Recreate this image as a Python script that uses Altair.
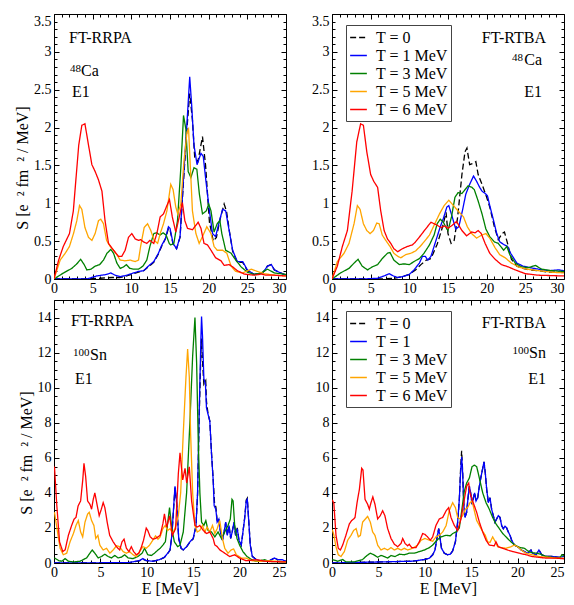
import altair as alt
import pandas as pd

FONT = "Liberation Serif"

# ---------------- data: 48Ca, FT-RRPA ----------------
CA_RRPA_T0 = [[0,0],[4,0],[6,0.01],[7.5,0.02],[8.5,0.02],[9.4,0.04],[10.3,0.07],[10.93,0.09],[11.6,0.11],[12.2,0.16],[12.9,0.22],[13.5,0.33],[13.95,0.44],[14.4,0.53],[14.8,0.67],[15.0,0.65],[15.4,0.46],[15.85,0.4],[16.3,0.55],[16.75,1.3],[17.2,2.0],[17.55,2.45],[17.9,2.1],[18.2,1.6],[18.6,1.55],[19.2,1.88],[19.6,1.5],[20.1,0.75],[20.6,0.5],[21.0,0.55],[21.5,0.8],[22.0,0.99],[22.3,0.9],[22.7,0.62],[23.1,0.37],[23.7,0.22],[24.4,0.22],[25.0,0.11],[25.9,0.06],[27.0,0.08],[27.6,0.17],[28.1,0.19],[28.5,0.12],[29.3,0.08],[30,0.05]]
CA_RRPA_T1 = [[0,0],[2,0.0],[4.25,0.0],[5.5,0.04],[6.8,0.06],[7.35,0.08],[7.9,0.05],[8.56,0.03],[9.4,0.05],[10.3,0.08],[10.93,0.10],[11.6,0.11],[12.2,0.17],[12.9,0.23],[13.5,0.34],[13.95,0.45],[14.4,0.53],[14.8,0.69],[15.0,0.67],[15.4,0.47],[15.85,0.4],[16.3,0.56],[16.75,1.34],[17.2,2.07],[17.55,2.67],[17.8,2.3],[18.1,1.77],[18.5,1.51],[19.0,1.66],[19.3,1.62],[19.65,1.29],[20.1,0.9],[20.5,0.6],[20.9,0.56],[21.4,0.77],[21.8,0.92],[22.2,0.9],[22.65,0.64],[23.1,0.38],[23.7,0.23],[24.4,0.23],[25.0,0.12],[25.9,0.06],[27.0,0.08],[27.6,0.17],[28.1,0.19],[28.5,0.12],[29.3,0.08],[30,0.05]]
CA_RRPA_T3 = [[0,0],[1.23,0.08],[2.3,0.14],[2.95,0.2],[3.45,0.26],[3.9,0.19],[4.25,0.12],[4.8,0.13],[5.32,0.17],[5.9,0.19],[6.4,0.25],[6.85,0.34],[7.35,0.39],[7.7,0.34],[8.13,0.21],[8.56,0.14],[9.0,0.16],[9.35,0.19],[9.8,0.14],[10.3,0.13],[10.93,0.13],[11.5,0.17],[12.0,0.25],[12.4,0.43],[12.9,0.6],[13.3,0.61],[13.7,0.58],[14.1,0.61],[14.5,0.58],[14.9,0.47],[15.1,0.45],[15.5,0.47],[15.97,0.77],[16.4,1.47],[16.75,2.16],[17.05,1.98],[17.35,1.42],[17.7,1.34],[18.1,1.47],[18.47,1.45],[18.8,1.12],[19.2,0.86],[19.7,0.9],[20.0,0.99],[20.3,0.9],[20.7,0.62],[21.1,0.73],[21.45,0.77],[21.7,0.6],[22.2,0.38],[22.9,0.34],[23.5,0.25],[24.2,0.16],[25.0,0.09],[25.9,0.06],[26.8,0.08],[27.6,0.13],[28.5,0.08],[30,0.06]]
CA_RRPA_T5 = [[0,0],[0.8,0.25],[1.45,0.34],[2.0,0.43],[2.52,0.6],[2.95,0.77],[3.3,0.97],[3.6,0.92],[4.0,0.68],[4.46,0.55],[4.9,0.51],[5.32,0.6],[5.75,0.77],[6.05,0.79],[6.4,0.73],[6.8,0.51],[7.26,0.43],[7.7,0.38],[8.13,0.32],[8.56,0.25],[9.2,0.24],[9.85,0.25],[10.5,0.23],[10.93,0.25],[11.2,0.43],[11.66,0.68],[12.1,0.73],[12.52,0.64],[12.95,0.51],[13.4,0.47],[13.73,0.6],[14.16,0.73],[14.6,0.9],[15.1,1.25],[15.4,1.18],[15.75,0.95],[16.0,0.86],[16.4,0.99],[16.8,1.55],[17.2,1.94],[17.4,1.98],[17.6,1.55],[17.9,0.9],[18.35,0.6],[18.77,0.47],[19.2,0.56],[19.76,0.69],[20.3,0.6],[20.7,0.43],[21.1,0.38],[21.8,0.38],[22.35,0.34],[22.9,0.17],[23.5,0.10],[24.4,0.08],[25.5,0.13],[26.3,0.10],[27.2,0.07],[28.5,0.05],[30,0.04]]
CA_RRPA_T6 = [[0,0],[0.6,0.25],[1.2,0.43],[2.0,0.6],[2.5,0.9],[3.2,1.77],[3.6,2.03],[4.0,2.05],[4.46,1.77],[4.9,1.51],[5.32,1.42],[5.75,1.31],[6.2,1.16],[6.6,0.77],[7.05,0.47],[7.7,0.38],[8.34,0.30],[8.77,0.30],[9.2,0.38],[9.63,0.55],[10.06,0.6],[10.5,0.53],[10.93,0.51],[11.2,0.52],[11.57,0.49],[12.0,0.47],[12.4,0.51],[12.9,0.47],[13.3,0.6],[13.73,0.82],[14.16,0.86],[14.6,0.97],[14.93,1.05],[15.3,0.82],[15.75,0.62],[16.2,0.82],[16.6,1.01],[16.92,0.77],[17.26,0.67],[17.9,0.65],[18.35,0.71],[18.64,0.75],[19.0,0.67],[19.4,0.47],[19.85,0.45],[20.3,0.38],[20.9,0.28],[21.6,0.24],[22.0,0.18],[22.65,0.19],[23.1,0.16],[23.7,0.11],[24.6,0.065],[25.9,0.05],[26.8,0.065],[27.4,0.05],[28.5,0.05],[30,0.04]]

# ---------------- data: 48Ca, FT-RTBA ----------------
CA_RTBA_T0 = [[0,0],[6,0],[8,0.01],[9,0.03],[10,0.06],[10.8,0.12],[11.5,0.19],[12.2,0.25],[12.8,0.27],[13.6,0.46],[14.3,0.69],[14.75,0.88],[15.0,0.6],[15.4,0.47],[15.8,0.51],[16.25,0.82],[16.8,1.38],[17.2,1.68],[17.45,1.73],[17.8,1.51],[18.3,1.53],[18.6,1.55],[18.9,1.38],[19.4,1.25],[20.0,1.08],[20.4,0.95],[21.0,0.69],[21.5,0.52],[22.0,0.6],[22.3,0.62],[22.7,0.47],[23.2,0.26],[23.9,0.17],[24.7,0.14],[25.6,0.12],[26.7,0.11],[28.0,0.09],[30,0.09]]
CA_RTBA_T1 = [[0,0],[4,0],[5.9,0.01],[6.74,0.04],[7.4,0.07],[7.95,0.04],[8.5,0.02],[9.1,0.03],[10.0,0.06],[10.6,0.12],[11.3,0.21],[11.7,0.3],[12.05,0.3],[12.4,0.25],[12.8,0.3],[13.2,0.43],[13.6,0.56],[14.0,0.69],[14.4,0.8],[14.85,0.95],[15.1,0.97],[15.55,0.82],[16.0,0.66],[16.4,0.69],[16.9,0.92],[17.3,1.12],[17.8,1.25],[18.3,1.36],[18.7,1.29],[19.1,1.21],[19.4,1.16],[19.8,1.13],[20.1,1.1],[20.4,0.97],[20.9,0.77],[21.3,0.6],[21.7,0.49],[22.3,0.45],[22.7,0.43],[23.1,0.34],[23.9,0.21],[24.7,0.17],[25.6,0.15],[26.7,0.13],[28.0,0.11],[29.3,0.12],[30,0.11]]
CA_RTBA_T3 = [[0,0],[1.1,0.08],[2.2,0.14],[2.85,0.21],[3.37,0.26],[3.9,0.17],[4.6,0.12],[5.2,0.16],[5.9,0.19],[6.5,0.27],[7.17,0.34],[7.5,0.35],[8.0,0.25],[8.7,0.19],[9.3,0.2],[10.0,0.19],[10.6,0.23],[11.3,0.27],[11.9,0.34],[12.6,0.45],[13.2,0.58],[13.6,0.73],[14.0,0.79],[14.4,0.75],[14.85,0.66],[15.0,0.64],[15.45,0.82],[15.9,1.08],[16.3,1.14],[16.8,1.13],[17.2,1.18],[17.6,1.23],[18.1,1.21],[18.4,1.18],[18.9,1.03],[19.4,0.86],[19.9,0.66],[20.4,0.56],[21.0,0.49],[21.5,0.47],[22.2,0.38],[22.6,0.43],[23.0,0.32],[23.7,0.21],[24.5,0.16],[25.4,0.15],[26.3,0.18],[27.1,0.13],[28.4,0.11],[30,0.1]]
CA_RTBA_T5 = [[0,0],[0.69,0.23],[1.56,0.34],[2.2,0.47],[2.85,0.73],[3.28,0.97],[3.63,0.92],[4.06,0.73],[4.5,0.64],[4.93,0.6],[5.36,0.64],[5.79,0.74],[6.1,0.73],[6.5,0.58],[6.95,0.51],[7.5,0.43],[8.0,0.34],[8.5,0.30],[8.9,0.28],[9.5,0.32],[10.2,0.34],[10.8,0.37],[11.4,0.43],[11.9,0.49],[12.6,0.58],[13.2,0.71],[13.9,0.86],[14.5,0.97],[15.1,1.04],[15.7,0.97],[16.3,0.9],[17.0,0.82],[17.5,0.69],[18.05,0.6],[18.7,0.54],[19.35,0.58],[19.9,0.6],[20.4,0.54],[21.1,0.41],[21.7,0.32],[22.4,0.28],[23.2,0.21],[24.1,0.16],[25.2,0.13],[26.7,0.11],[28.4,0.09],[30,0.08]]
CA_RTBA_T6 = [[0,0],[0.69,0.17],[1.34,0.43],[1.99,0.64],[2.6,1.16],[3.2,1.81],[3.7,2.05],[4.06,2.03],[4.5,1.68],[5.0,1.38],[5.4,1.29],[5.9,1.21],[6.3,0.9],[6.74,0.64],[7.17,0.53],[7.6,0.47],[8.0,0.40],[8.5,0.36],[9.1,0.40],[9.76,0.43],[10.4,0.45],[10.8,0.49],[11.5,0.58],[12.1,0.66],[12.8,0.75],[13.2,0.73],[13.6,0.71],[14.1,0.68],[14.6,0.70],[15.0,0.67],[15.55,0.71],[16.1,0.76],[16.8,0.64],[17.4,0.57],[18.05,0.62],[18.5,0.61],[18.9,0.64],[19.3,0.6],[19.8,0.47],[20.4,0.34],[21.1,0.26],[21.9,0.19],[22.8,0.16],[23.7,0.12],[25.0,0.07],[26.7,0.05],[30,0.04]]

# ---------------- data: 100Sn, FT-RRPA ----------------
SN_RRPA_T0 = [[0,0],[8,0.01],[9.2,0.12],[9.58,0.22],[9.94,0.13],[10.65,0.1],[11.4,0.19],[11.9,0.32],[12.26,0.55],[12.5,0.73],[12.7,1.55],[12.9,3.2],[13.04,4.3],[13.22,3.4],[13.44,1.38],[13.7,0.83],[13.93,0.74],[14.29,0.92],[14.65,1.2],[15.0,1.38],[15.3,2.1],[15.47,3.9],[15.65,8.4],[15.83,12.0],[15.9,12.8],[16.0,11.5],[16.15,10.2],[16.35,10.4],[16.43,9.2],[16.6,8.5],[16.79,8.1],[16.97,6.3],[17.15,4.8],[17.3,3.4],[17.44,3.2],[17.58,2.4],[17.76,2.5],[17.94,1.8],[18.15,1.3],[18.33,1.77],[18.5,2.3],[18.68,1.58],[18.86,2.14],[19.04,1.4],[19.2,1.77],[19.4,2.3],[19.57,1.58],[19.75,2.0],[19.93,1.3],[20.18,1.02],[20.36,1.77],[20.54,2.55],[20.72,3.6],[20.83,3.7],[20.97,2.55],[21.15,1.05],[21.37,0.38],[21.8,0.19],[22.5,0.09],[23.2,0.13],[23.75,0.28],[24.1,0.19],[24.6,0.19],[25,0.09]]
SN_RRPA_T1 = [[0,0],[8,0.02],[9.2,0.14],[9.58,0.25],[9.94,0.14],[10.65,0.1],[11.4,0.2],[11.9,0.33],[12.26,0.56],[12.5,0.74],[12.7,1.58],[12.9,3.26],[13.04,4.38],[13.22,3.44],[13.44,1.4],[13.7,0.84],[13.93,0.75],[14.29,0.93],[14.65,1.21],[15.0,1.4],[15.3,2.14],[15.47,4.0],[15.65,8.66],[15.83,12.8],[15.9,14.06],[16.0,12.97],[16.15,10.5],[16.32,10.2],[16.43,8.85],[16.6,8.48],[16.79,8.1],[16.97,6.25],[17.15,4.75],[17.26,3.26],[17.44,3.07],[17.58,2.33],[17.76,2.51],[17.94,1.77],[18.15,1.3],[18.33,1.77],[18.5,2.33],[18.68,1.58],[18.86,2.14],[19.04,1.4],[19.2,1.77],[19.4,2.33],[19.57,1.58],[19.75,1.96],[19.93,1.3],[20.18,1.02],[20.36,1.77],[20.54,2.51],[20.72,3.54],[20.83,3.63],[20.97,2.51],[21.15,1.02],[21.37,0.37],[21.8,0.19],[22.5,0.09],[23.2,0.13],[23.75,0.28],[24.1,0.19],[24.6,0.19],[25,0.09]]
SN_RRPA_T3 = [[0.05,0.29],[0.5,0.14],[0.84,0.1],[1.2,0.25],[1.55,0.1],[2.1,0.06],[2.8,0.1],[3.52,0.29],[3.87,0.56],[4.12,0.74],[4.4,0.56],[4.76,0.29],[5.12,0.37],[5.48,0.5],[5.84,0.37],[6.2,0.29],[6.55,0.43],[6.9,0.29],[7.26,0.33],[7.62,0.47],[7.98,0.29],[8.5,0.25],[9.05,0.37],[9.5,0.56],[9.76,0.84],[10.1,0.47],[10.5,0.43],[10.83,0.56],[11.2,0.74],[11.44,0.84],[11.73,1.02],[12.0,1.21],[12.26,2.33],[12.45,3.16],[12.7,1.96],[12.97,1.21],[13.33,0.93],[13.58,1.02],[13.93,1.77],[14.29,4.0],[14.65,8.1],[14.94,11.8],[15.19,14.0],[15.37,11.4],[15.55,6.8],[15.72,4.0],[15.9,2.33],[16.15,2.14],[16.36,2.42],[16.6,1.86],[16.97,1.77],[17.33,1.49],[17.68,1.77],[18.04,1.4],[18.4,1.77],[18.75,2.14],[19.0,2.51],[19.18,3.63],[19.3,3.54],[19.47,2.14],[19.72,1.4],[20.0,1.02],[20.36,0.65],[20.8,0.37],[21.3,0.19],[21.8,0.09],[22.7,0.19],[23.2,0.09],[25,0.06]]
SN_RRPA_T5 = [[0.05,2.9],[0.38,1.77],[0.66,0.84],[1.0,0.47],[1.37,0.56],[1.73,1.21],[2.09,1.68],[2.37,2.14],[2.62,2.42],[2.87,1.77],[3.09,1.49],[3.34,2.33],[3.62,2.79],[3.8,2.89],[4.05,2.42],[4.3,2.14],[4.5,1.4],[4.73,1.58],[4.94,1.02],[5.3,0.74],[5.66,0.84],[6.02,0.56],[6.37,0.74],[6.73,0.98],[7.08,0.93],[7.44,0.65],[7.8,0.56],[8.15,0.65],[8.51,0.47],[8.87,0.37],[9.22,0.65],[9.58,0.93],[9.94,0.84],[10.3,1.02],[10.65,1.3],[10.94,1.55],[11.2,1.36],[11.44,1.49],[11.73,1.96],[11.98,2.14],[12.26,1.86],[12.5,1.96],[12.8,1.68],[13.15,2.14],[13.4,2.72],[13.65,4.0],[13.93,7.4],[14.22,10.6],[14.4,12.2],[14.58,10.6],[14.72,7.4],[14.94,4.0],[15.19,2.14],[15.44,1.77],[15.72,1.86],[16.0,2.14],[16.25,1.77],[16.5,2.05],[16.79,1.77],[17.08,2.14],[17.33,1.68],[17.58,1.95],[17.86,2.42],[18.15,1.4],[18.4,0.84],[18.75,0.56],[19.1,0.75],[19.36,0.8],[19.65,0.47],[20.2,0.28],[20.7,0.28],[21.3,0.13],[22.2,0.09],[23.2,0.13],[25,0.06]]
SN_RRPA_T6 = [[0.05,5.5],[0.3,3.3],[0.6,1.2],[0.95,0.65],[1.2,0.75],[1.55,1.58],[1.9,2.14],[2.16,2.5],[2.37,2.6],[2.6,3.26],[2.87,3.54],[3.1,4.75],[3.23,5.68],[3.41,4.94],[3.62,3.54],[3.87,3.35],[4.05,3.07],[4.23,3.63],[4.4,4.0],[4.6,3.44],[4.87,2.7],[5.1,3.07],[5.3,3.44],[5.48,3.16],[5.73,2.33],[6.0,1.58],[6.37,1.21],[6.73,0.93],[7.08,0.74],[7.33,1.21],[7.55,1.36],[7.8,0.84],[8.08,0.65],[8.33,0.93],[8.58,0.65],[8.87,0.47],[9.15,0.56],[9.4,0.88],[9.65,1.3],[9.94,1.99],[10.1,1.86],[10.37,1.49],[10.65,1.36],[10.94,1.4],[11.2,1.49],[11.44,1.58],[11.73,2.23],[11.9,2.8],[12.14,2.04],[12.46,2.69],[12.75,1.58],[13.1,1.95],[13.4,5.11],[13.58,6.28],[13.87,4.74],[14.12,5.4],[14.3,4.56],[14.58,5.49],[14.83,3.53],[15.19,2.14],[15.44,2.05],[15.72,2.14],[16.08,1.86],[16.43,1.68],[16.79,1.77],[17.15,1.4],[17.33,1.03],[17.58,0.94],[17.86,0.75],[18.4,0.56],[18.93,0.37],[19.47,0.47],[20.0,0.28],[20.7,0.13],[21.8,0.19],[22.9,0.09],[25,0.06]]

# ---------------- data: 100Sn, FT-RTBA ----------------
SN_RTBA_T0 = [[0,0],[8.5,0.1],[9.2,0.14],[9.95,0.2],[10.5,0.28],[10.85,0.47],[11.1,0.74],[11.3,1.4],[11.5,1.96],[11.6,1.58],[11.8,0.84],[12.1,0.56],[12.46,0.47],[12.75,0.5],[13.0,0.69],[13.3,1.21],[13.54,2.33],[13.72,3.63],[13.87,5.5],[13.97,6.4],[14.08,5.2],[14.19,3.44],[14.33,2.6],[14.51,2.89],[14.66,3.72],[14.8,4.38],[14.94,4.0],[15.09,3.35],[15.23,3.72],[15.37,4.0],[15.52,3.54],[15.7,3.72],[15.88,4.38],[16.06,4.93],[16.24,5.4],[16.38,5.77],[16.52,5.12],[16.67,4.19],[16.85,3.44],[17.03,3.72],[17.2,3.07],[17.38,2.7],[17.56,2.33],[17.74,2.51],[17.92,2.7],[18.1,2.6],[18.28,2.14],[18.46,1.96],[18.64,2.1],[18.82,2.0],[19.0,1.77],[19.18,1.58],[19.36,1.3],[19.65,1.02],[20.0,0.93],[20.4,0.74],[20.73,0.65],[21.1,0.56],[21.44,0.74],[21.6,0.56],[22.0,0.47],[22.3,0.74],[22.6,0.47],[23.06,0.37],[23.8,0.37],[24.5,0.32],[25,0.37]]
SN_RTBA_T1 = [[0,0],[8.5,0.1],[9.2,0.14],[9.95,0.2],[10.5,0.28],[10.85,0.47],[11.1,0.74],[11.3,1.4],[11.5,1.96],[11.6,1.58],[11.8,0.84],[12.1,0.56],[12.46,0.47],[12.75,0.5],[13.0,0.69],[13.3,1.21],[13.54,2.33],[13.72,3.63],[13.87,5.3],[13.97,6.05],[14.08,5.12],[14.19,3.44],[14.33,2.6],[14.51,2.89],[14.66,3.72],[14.8,4.38],[14.94,4.0],[15.09,3.35],[15.23,3.72],[15.37,4.0],[15.52,3.54],[15.7,3.72],[15.88,4.38],[16.06,4.93],[16.24,5.4],[16.38,5.77],[16.52,5.12],[16.67,4.19],[16.85,3.44],[17.03,3.72],[17.2,3.07],[17.38,2.7],[17.56,2.33],[17.74,2.51],[17.92,2.7],[18.1,2.6],[18.28,2.14],[18.46,1.96],[18.64,2.1],[18.82,2.0],[19.0,1.77],[19.18,1.58],[19.36,1.3],[19.65,1.02],[20.0,0.93],[20.4,0.74],[20.73,0.65],[21.1,0.56],[21.44,0.74],[21.6,0.56],[22.0,0.47],[22.3,0.74],[22.6,0.47],[23.06,0.37],[23.8,0.37],[24.5,0.32],[25,0.37]]
SN_RTBA_T3 = [[0.03,0.2],[0.61,0.1],[1.15,0.2],[1.5,0.06],[2.4,0.06],[3.3,0.2],[3.77,0.43],[4.13,0.56],[4.5,0.47],[4.92,0.33],[5.28,0.43],[5.64,0.37],[6.0,0.28],[6.36,0.43],[6.8,0.37],[7.26,0.5],[7.8,0.47],[8.33,0.56],[8.87,0.56],[9.41,0.65],[9.95,0.74],[10.5,0.88],[10.85,1.02],[11.3,1.3],[11.74,1.49],[12.3,1.58],[12.75,1.55],[13.0,1.68],[13.36,1.77],[13.72,2.0],[14.0,3.07],[14.26,4.1],[14.51,4.56],[14.8,4.84],[15.09,5.5],[15.34,5.58],[15.59,5.5],[15.88,4.84],[16.24,4.0],[16.6,3.44],[16.95,3.07],[17.31,2.6],[17.67,2.23],[18.03,1.96],[18.4,1.68],[18.75,1.49],[19.1,1.3],[19.47,1.12],[19.83,0.98],[20.26,0.88],[20.73,0.84],[21.1,0.69],[21.44,0.6],[22.0,0.56],[22.5,0.5],[23.06,0.37],[23.8,0.32],[24.5,0.28],[24.8,0.47],[25,0.4]]
SN_RTBA_T5 = [[0.03,1.9],[0.2,1.6],[0.43,0.93],[0.68,0.47],[0.97,0.37],[1.33,0.65],[1.69,1.3],[2.05,1.58],[2.33,1.86],[2.6,1.96],[2.84,1.49],[3.06,1.58],[3.3,2.33],[3.6,2.51],[3.84,2.66],[4.13,2.33],[4.38,1.77],[4.63,1.58],[4.92,1.02],[5.28,0.74],[5.64,0.84],[6.0,0.74],[6.36,0.88],[6.72,0.74],[7.08,0.84],[7.44,0.74],[7.8,0.84],[8.15,0.74],[8.69,0.84],[9.23,1.02],[9.6,1.3],[10.02,1.4],[10.5,1.3],[10.85,1.24],[11.2,1.49],[11.56,1.58],[11.93,1.77],[12.3,2.14],[12.64,3.0],[13.0,3.44],[13.3,3.16],[13.54,2.6],[13.8,2.51],[14.08,2.7],[14.37,3.07],[14.62,3.16],[14.87,3.44],[15.09,3.54],[15.34,2.98],[15.59,2.42],[15.88,2.14],[16.17,1.86],[16.52,1.58],[16.77,1.21],[17.03,1.17],[17.31,1.49],[17.6,1.21],[17.85,0.93],[18.2,0.88],[18.75,0.84],[19.3,0.93],[19.65,1.02],[20.0,0.93],[20.4,0.74],[20.9,0.56],[21.6,0.47],[22.3,0.37],[23.4,0.32],[24.1,0.28],[25,0.28]]
SN_RTBA_T6 = [[0.03,3.6],[0.2,3.4],[0.43,1.58],[0.68,0.84],[0.9,0.74],[1.15,1.02],[1.5,1.58],[1.87,2.23],[2.12,2.42],[2.33,2.51],[2.48,2.6],[2.7,3.44],[2.95,4.2],[3.2,5.4],[3.34,5.3],[3.56,3.63],[3.84,3.35],[4.02,3.07],[4.2,3.44],[4.4,3.77],[4.63,3.35],[4.92,2.51],[5.2,2.7],[5.46,2.98],[5.7,2.7],[6.0,1.96],[6.36,1.4],[6.72,1.07],[7.08,0.93],[7.44,1.12],[7.62,1.4],[7.87,1.12],[8.15,0.98],[8.33,1.07],[8.58,0.88],[9.05,0.88],[9.41,1.21],[9.77,1.68],[10.02,1.63],[10.3,1.49],[10.6,1.3],[10.85,1.49],[11.2,2.14],[11.56,2.51],[11.93,2.6],[12.3,2.98],[12.57,3.16],[12.82,2.6],[13.18,2.14],[13.54,1.86],[13.9,2.51],[14.26,3.63],[14.51,4.38],[14.73,4.56],[14.87,4.0],[15.09,3.63],[15.34,3.26],[15.59,2.89],[15.88,2.33],[16.24,1.77],[16.6,1.3],[16.95,1.02],[17.49,0.98],[17.67,1.21],[17.92,0.93],[18.4,0.84],[18.93,0.74],[19.47,0.65],[20.2,0.56],[20.9,0.47],[21.6,0.37],[22.3,0.32],[23.06,0.28],[24.1,0.28],[25,0.24]]

# ---------------- labels / ticks ----------------
LABELS_TOP = ["T = 0", "T = 1 MeV", "T = 3 MeV", "T = 5 MeV", "T = 6 MeV"]
LABELS_BOTTOM = ["T = 0", "T = 1", "T = 3 MeV", "T = 5 MeV", "T = 6 MeV"]
COLORS = ["black", "#0000ff", "#008000", "#ffa500", "#ff0000"]
DASHES = [[6, 3], [1, 0], [1, 0], [1, 0], [1, 0]]

X_TOP_MAJOR = [0, 5, 10, 15, 20, 25, 30]
X_BOT_MAJOR = [0, 5, 10, 15, 20, 25]
Y_TOP_MAJOR = [0, 0.5, 1, 1.5, 2, 2.5, 3, 3.5]
Y_BOT_MAJOR = [0, 2, 4, 6, 8, 10, 12, 14]
X_TOP_MINOR = list(range(0, 31))
X_BOT_MINOR = list(range(0, 26))
Y_TOP_MINOR = [round(i * 0.1, 1) for i in range(0, 36)]
Y_BOT_MINOR = [i * 0.5 for i in range(0, 31)]

W = 232
H_TOP, H_BOT = 265, 263


def build_df(labels, series):
    rows = []
    for lab, pts in zip(labels, series):
        for e, s in pts:
            rows.append({"E": e, "S": s, "T": lab})
    return pd.DataFrame(rows)


def txt_layer(txt, px, py, align, size):
    return alt.Chart(pd.DataFrame({"t": [txt]})).mark_text(
        align=align, baseline="alphabetic", font=FONT, fontSize=size, color="black"
    ).encode(x=alt.value(px), y=alt.value(py), text="t:N")


def panel(series, labels, H, xmax, ymax, xmajor, xminor, ymajor, yminor,
          ytest, ytop, xtitle, ytitle, show_legend, texts):
    df = build_df(labels, series)
    xscale = alt.Scale(domain=[0, xmax], nice=False, zero=False)
    yscale = alt.Scale(domain=[0, ymax], nice=False, zero=False)
    if show_legend:
        leg = alt.Legend(title=None, orient="none", legendX=14, legendY=11,
                         symbolType="stroke", symbolSize=280, symbolStrokeWidth=1.6,
                         labelFont=FONT, labelFontSize=16, labelColor="black",
                         fillColor="white", strokeColor="#444444", padding=3,
                         rowPadding=0, labelOffset=8, labelLimit=200)
    else:
        leg = None
    xalign = {"condition": {"test": f"datum.value >= {xmax}", "value": "right"}, "value": "center"}
    xaxis = alt.Axis(orient="bottom", values=xmajor, ticks=False, domain=False, grid=False,
                     labelFont=FONT, labelFontSize=14, labelColor="black", labelPadding=2,
                     labelFlush=False, format="~g", labelAlign=xalign,
                     title=xtitle, titleFont=FONT, titleFontSize=16, titleFontWeight="normal",
                     titleColor="black", titlePadding=1)
    ybase = {"condition": {"test": ytop, "value": "top"}, "value": "middle"}
    yaxis = alt.Axis(orient="left", values=ymajor, ticks=False, domain=False, grid=False,
                     labelFont=FONT, labelFontSize=14, labelColor="black", labelPadding=3,
                     labelFlush=False, format="~g", labelBaseline=ybase,
                     title=ytitle, titleFont=FONT, titleFontSize=16, titleFontWeight="normal",
                     titleColor="black", titlePadding=3, titleY=H / 2 + 21)
    lines = alt.Chart(df).mark_line(clip=True, strokeWidth=1.3).encode(
        x=alt.X("E:Q", scale=xscale, axis=xaxis),
        y=alt.Y("S:Q", scale=yscale, axis=yaxis),
        color=alt.Color("T:N", scale=alt.Scale(domain=labels, range=COLORS), legend=leg),
        strokeDash=alt.StrokeDash("T:N", scale=alt.Scale(domain=labels, range=DASHES), legend=leg),
    )
    xsize = {"condition": {"test": "datum.value % 5 === 0", "value": 5}, "value": 3}
    ysize = {"condition": {"test": ytest, "value": 5}, "value": 3}
    tick_df = pd.DataFrame({"E": [0.0], "S": [0.0]})

    def ticks(xo, yo):
        return alt.Chart(tick_df).mark_point(opacity=0, size=1).encode(
            x=alt.X("E:Q", scale=xscale,
                    axis=alt.Axis(orient=xo, offset=-H, values=xminor, labels=False,
                                  domain=False, grid=False, tickSize=xsize,
                                  minExtent=0, maxExtent=0,
                                  tickColor="black", tickWidth=1, title=None)),
            y=alt.Y("S:Q", scale=yscale,
                    axis=alt.Axis(orient=yo, offset=-W, values=yminor, labels=False,
                                  domain=False, grid=False, tickSize=ysize,
                                  minExtent=0, maxExtent=0,
                                  tickColor="black", tickWidth=1, title=None)),
        )

    layers = [lines, ticks("top", "right"), ticks("bottom", "left")]
    for t in texts:
        layers.append(txt_layer(*t))
    return alt.layer(*layers).resolve_axis(x="independent", y="independent").properties(width=W, height=H)


YTITLE = "S [e\u00a0\u00a0² fm\u00a0\u00a0² / MeV]"
YT_TOP = "abs(datum.value*2 - round(datum.value*2)) < 0.001"
YT_BOT = "datum.value % 2 === 0"
TOP_TOP = "datum.value > 3.4"
TOP_BOT = "datum.value > 14.5"

tl = panel([CA_RRPA_T0, CA_RRPA_T1, CA_RRPA_T3, CA_RRPA_T5, CA_RRPA_T6], LABELS_TOP, H_TOP,
           30, 3.5, X_TOP_MAJOR, X_TOP_MINOR, Y_TOP_MAJOR, Y_TOP_MINOR, YT_TOP, TOP_TOP,
           None, YTITLE, False,
           [("FT-RRPA", 15, 29, "left", 16),
            ("48", 16, 58, "left", 11), ("Ca", 27, 62, "left", 16),
            ("E1", 18, 83, "left", 16)])
tr = panel([CA_RTBA_T0, CA_RTBA_T1, CA_RTBA_T3, CA_RTBA_T5, CA_RTBA_T6], LABELS_TOP, H_TOP,
           30, 3.5, X_TOP_MAJOR, X_TOP_MINOR, Y_TOP_MAJOR, Y_TOP_MINOR, YT_TOP, TOP_TOP,
           None, None, True,
           [("FT-RTBA", W - 18, 29, "right", 16),
            ("48", W - 41, 47, "right", 11), ("Ca", W - 22, 51, "right", 16),
            ("E1", W - 22, 83, "right", 16)])
bl = panel([SN_RRPA_T0, SN_RRPA_T1, SN_RRPA_T3, SN_RRPA_T5, SN_RRPA_T6], LABELS_BOTTOM, H_BOT,
           25, 15, X_BOT_MAJOR, X_BOT_MINOR, Y_BOT_MAJOR, Y_BOT_MINOR, YT_BOT, TOP_BOT,
           "E [MeV]", YTITLE, False,
           [("FT-RRPA", 17, 26, "left", 16),
            ("100", 19, 56, "left", 11), ("Sn", 36, 60, "left", 16),
            ("E1", 21, 84, "left", 16)])
br = panel([SN_RTBA_T0, SN_RTBA_T1, SN_RTBA_T3, SN_RTBA_T5, SN_RTBA_T6], LABELS_BOTTOM, H_BOT,
           25, 15, X_BOT_MAJOR, X_BOT_MINOR, Y_BOT_MAJOR, Y_BOT_MINOR, YT_BOT, TOP_BOT,
           "E [MeV]", None, True,
           [("FT-RTBA", W - 18, 28, "right", 16),
            ("100", W - 35, 54, "right", 11), ("Sn", W - 18, 58, "right", 16),
            ("E1", W - 18, 84, "right", 16)])

chart = alt.concat(tl, tr, bl, br, columns=2, spacing={"row": 3, "column": 24}).resolve_scale(
    color="independent", strokeDash="independent"
).properties(
    padding={"left": 6, "top": 5, "right": 0, "bottom": 0}, background="white"
).configure_view(stroke="black", strokeWidth=1)

chart.save("out.html", embed_options={"renderer": "svg", "actions": False})
